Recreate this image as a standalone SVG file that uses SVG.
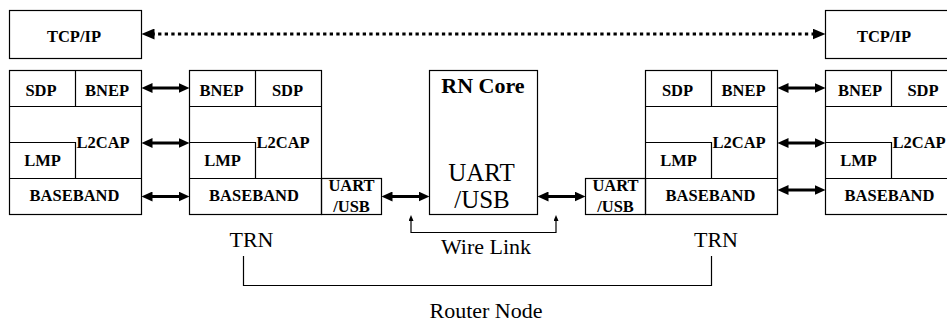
<svg xmlns="http://www.w3.org/2000/svg" width="947" height="323" viewBox="0 0 947 323">
<style>
rect, .ln { fill: none; stroke: #000; stroke-width: 1.2; }
rect.bg { fill: #fff; stroke: none; }
text { font-family: 'Liberation Serif', 'Tinos', 'DejaVu Serif', 'Noto Serif', 'Times New Roman', serif; fill: #000; text-anchor: middle; }
.b { font-weight: bold; font-size: 16.5px; }
.l2 { text-anchor: start; }
.r { font-size: 22px; }
.big { font-size: 25px; }
.core { font-weight: bold; font-size: 22px; }
.arr { stroke: #000; stroke-width: 3; fill: none; marker-start: url(#ah); marker-end: url(#ah); }
.dot { stroke: #000; stroke-width: 3; stroke-dasharray: 3.3 3.3; fill: none; marker-start: url(#dh); marker-end: url(#dh); }
.thin { stroke: #000; stroke-width: 1.2; fill: none; }
</style>
<defs>
<marker id="ah" viewBox="0 0 11 10" markerWidth="11" markerHeight="10" refX="3" refY="5" markerUnits="userSpaceOnUse" orient="auto-start-reverse"><path d="M0,0 L11,5 L0,10 z" fill="#000"/></marker>
<marker id="dh" viewBox="0 0 13 11" markerWidth="13" markerHeight="11" refX="3" refY="5.5" markerUnits="userSpaceOnUse" orient="auto-start-reverse"><path d="M0,0 L13,5.5 L0,11 z" fill="#000"/></marker>
<marker id="sh" viewBox="0 0 6 5" markerWidth="6" markerHeight="5" refX="2" refY="2.5" markerUnits="userSpaceOnUse" orient="auto-start-reverse"><path d="M0,0 L6,2.5 L0,5 z" fill="#000"/></marker>
</defs>
<rect class="bg" x="0" y="0" width="947" height="323"/>

<g id="tcpip-left">
<rect x="9.5" y="10.5" width="132" height="48"/>
<text class="b" x="74" y="42.3">TCP/IP</text>
</g>
<g id="tcpip-right">
<rect x="825.5" y="10.5" width="132" height="48"/>
<text class="b" x="884" y="42.3">TCP/IP</text>
</g>

<g id="stack1">
<rect x="9.5" y="70.5" width="132" height="144"/>
<path class="ln" d="M9.5,106.5 H141.5 M75.5,70.5 V106.5 M9.5,142.5 H75.5 V178.5 M9.5,178.5 H141.5"/>
<text class="b" x="41" y="96">SDP</text>
<text class="b" x="107" y="96">BNEP</text>
<text class="b l2" x="76.5" y="147.7">L2CAP</text>
<text class="b" x="42.5" y="165.7">LMP</text>
<text class="b" x="74.5" y="201">BASEBAND</text>
</g>

<g id="stack2">
<rect x="189.5" y="70.5" width="132" height="144"/>
<path class="ln" d="M189.5,106.5 H321.5 M255.5,70.5 V106.5 M189.5,142.5 H255.5 V178.5 M189.5,178.5 H321.5"/>
<text class="b" x="221.5" y="96">BNEP</text>
<text class="b" x="287.5" y="96">SDP</text>
<text class="b l2" x="256.5" y="147.7">L2CAP</text>
<text class="b" x="222.5" y="165.7">LMP</text>
<text class="b" x="254" y="201">BASEBAND</text>
</g>

<g id="uart-left">
<rect x="321.5" y="178.5" width="60" height="36"/>
<text class="b" x="351.5" y="191">UART</text>
<text class="b" x="351.5" y="211.7">/USB</text>
</g>

<g id="rn-core">
<rect x="429.5" y="70.5" width="108" height="144"/>
<text class="r core" x="483" y="92.7">RN Core</text>
<text class="r big" x="481.5" y="181">UART</text>
<text class="r big" x="482" y="207.7">/USB</text>
</g>

<g id="uart-right">
<rect x="585.5" y="178.5" width="60" height="36"/>
<text class="b" x="615.5" y="191">UART</text>
<text class="b" x="615.5" y="211.7">/USB</text>
</g>

<g id="stack3">
<rect x="645.5" y="70.5" width="132" height="144"/>
<path class="ln" d="M645.5,106.5 H777.5 M711.5,70.5 V106.5 M645.5,142.5 H711.5 V178.5 M645.5,178.5 H777.5"/>
<text class="b" x="677.5" y="96">SDP</text>
<text class="b" x="743.5" y="96">BNEP</text>
<text class="b l2" x="712.5" y="147.7">L2CAP</text>
<text class="b" x="678.5" y="165.7">LMP</text>
<text class="b" x="710.5" y="201">BASEBAND</text>
</g>

<g id="stack4">
<rect x="825.5" y="70.5" width="132" height="144"/>
<path class="ln" d="M825.5,106.5 H957.5 M891.5,70.5 V106.5 M825.5,142.5 H891.5 V178.5 M825.5,178.5 H957.5"/>
<text class="b" x="860" y="96">BNEP</text>
<text class="b" x="923" y="96">SDP</text>
<text class="b l2" x="892.5" y="147.7">L2CAP</text>
<text class="b" x="858.5" y="165.7">LMP</text>
<text class="b" x="889.5" y="201">BASEBAND</text>
</g>

<g id="labels">
<text class="r" x="251.5" y="247.3">TRN</text>
<text class="r" x="716" y="247.3">TRN</text>
<text class="r" x="486" y="254.3">Wire Link</text>
<text class="r" x="486" y="317.5">Router Node</text>
</g>

<g id="connectors">
<line class="dot" x1="151.5" y1="34" x2="815.5" y2="34"/>
<line class="arr" x1="149.5" y1="88" x2="181.5" y2="88"/>
<line class="arr" x1="149.5" y1="143" x2="181.5" y2="143"/>
<line class="arr" x1="149.5" y1="196.5" x2="181.5" y2="196.5"/>
<line class="arr" x1="389.5" y1="196.5" x2="421.5" y2="196.5"/>
<line class="arr" x1="545.5" y1="196.5" x2="577.5" y2="196.5"/>
<line class="arr" x1="785.5" y1="88" x2="817.5" y2="88"/>
<line class="arr" x1="785.5" y1="143" x2="817.5" y2="143"/>
<line class="arr" x1="785.5" y1="190" x2="817.5" y2="190"/>
<polyline class="thin" points="411,219 411,232.5 556,232.5 556,219" marker-start="url(#sh)" marker-end="url(#sh)"/>
<polyline class="thin" points="243.5,256 243.5,285.5 711.5,285.5 711.5,256"/>
</g>
</svg>
